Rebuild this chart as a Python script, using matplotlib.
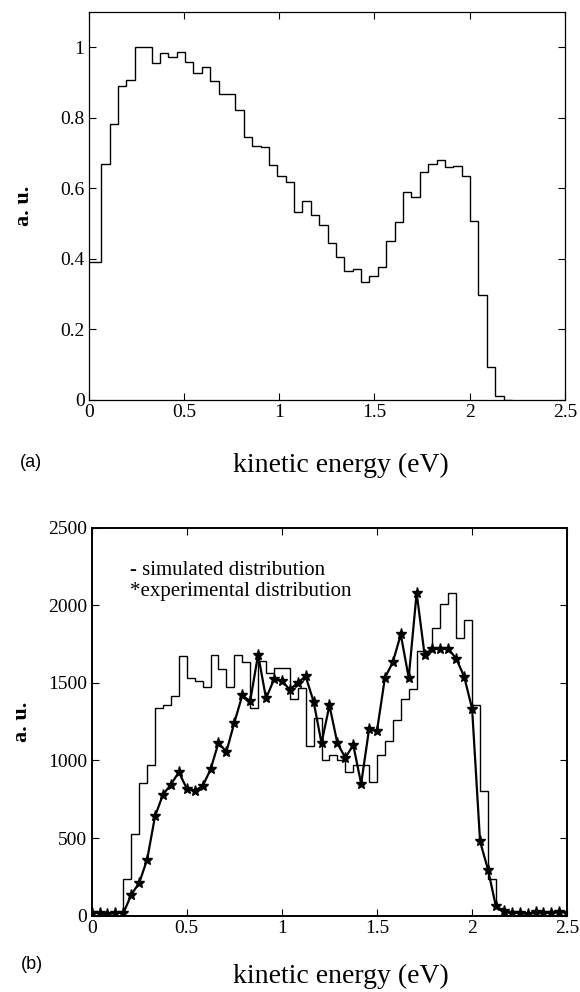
import numpy as np
import matplotlib
matplotlib.use("Agg")
import matplotlib.pyplot as plt

plt.rcParams["font.family"] = ["Liberation Serif", "DejaVu Serif"]

# (a) simulated kinetic energy distribution, bin width 0.044 eV
a_bin_width = 0.044
a_values = [0.39, 0.39, 0.668, 0.782, 0.890, 0.907, 1.0, 1.0, 0.956, 0.984,
            0.973, 0.987, 0.958, 0.927, 0.944, 0.905, 0.866, 0.868, 0.823, 0.744,
            0.720, 0.718, 0.666, 0.635, 0.618, 0.533, 0.564, 0.524, 0.495, 0.444,
            0.404, 0.366, 0.370, 0.335, 0.351, 0.376, 0.450, 0.505, 0.590, 0.576,
            0.647, 0.670, 0.680, 0.661, 0.664, 0.635, 0.508, 0.296, 0.094, 0.011,
            0.0]

# (b) simulated vs experimental, bin width 2.5/60 eV
b_bin_width = 2.5 / 60
b_simulated = [0, 0, 0, 0, 237, 527, 856, 974, 1335, 1355,
               1415, 1673, 1529, 1512, 1475, 1683, 1587, 1475, 1683, 1634,
               1340, 1640, 1565, 1597, 1597, 1393, 1468, 1092, 1275, 1006,
               1038, 1006, 924, 968, 968, 860, 1038, 1124, 1264, 1393,
               1458, 1705, 1705, 1855, 2006, 2081, 1787, 1903, 1357, 802,
               237, 50, 0, 0, 0, 0, 0, 0, 0, 0]
b_experimental = [17, 17, 10, 20, 15, 135, 211, 361, 641, 780,
                  845, 925, 819, 806, 834, 942, 1114, 1056, 1243, 1419,
                  1382, 1683, 1400, 1522, 1515, 1455, 1501, 1542, 1380, 1112,
                  1355, 1112, 1017, 1100, 850, 1202, 1192, 1533, 1634, 1812,
                  1533, 2080, 1683, 1720, 1720, 1720, 1656, 1540, 1333, 479,
                  297, 60, 28, 15, 20, 10, 25, 20, 15, 25, 20]

x_ticks = [0, 0.5, 1, 1.5, 2, 2.5]
x_tick_labels = ["0", "0.5", "1", "1.5", "2", "2.5"]
a_y_ticks = [0, 0.2, 0.4, 0.6, 0.8, 1]
a_y_tick_labels = ["0", "0.2", "0.4", "0.6", "0.8", "1"]
b_y_ticks = [0, 500, 1000, 1500, 2000, 2500]


def style_axes(ax, lw):
    ax.tick_params(direction="in", top=True, right=True, length=5, width=0.8,
                   labelsize=14, pad=3)
    for spine in ax.spines.values():
        spine.set_linewidth(lw)
        spine.set_color("black")


fig = plt.figure(figsize=(5.8, 9.92), dpi=100)

ax_a = fig.add_axes([0.153, 0.597, 0.821, 0.391])
a_edges = np.r_[0, a_bin_width * (np.arange(len(a_values)) + 0.5)]
ax_a.stairs(a_values, a_edges, color="black", linewidth=1.0, baseline=None)
ax_a.set_xlim(0, 2.5)
ax_a.set_ylim(0, 1.1)
ax_a.set_xticks(x_ticks, x_tick_labels)
ax_a.set_yticks(a_y_ticks, a_y_tick_labels)
style_axes(ax_a, 0.9)
ax_a.text(-0.135, 0.5, "a. u.", transform=ax_a.transAxes, rotation=90,
          ha="center", va="center", fontsize=16, fontweight="bold")
ax_a.text(0.53, -0.17, "kinetic energy (eV)", transform=ax_a.transAxes,
          ha="center", va="center", fontsize=20)
ax_a.text(-0.122, -0.162, "(a)", transform=ax_a.transAxes, ha="center",
          va="center", fontsize=13, family=["Liberation Sans", "DejaVu Sans"])

ax_b = fig.add_axes([0.158, 0.077, 0.820, 0.391])
b_edges = b_bin_width * np.arange(len(b_simulated) + 1)
ax_b.stairs(b_simulated, b_edges, color="black", linewidth=1.0, baseline=None)
b_x = b_bin_width * np.arange(len(b_experimental))
ax_b.plot(b_x, b_experimental, color="black", linewidth=1.6, marker="*",
          markersize=8, clip_on=True)
ax_b.set_xlim(0, 2.5)
ax_b.set_ylim(0, 2500)
ax_b.set_xticks(x_ticks, x_tick_labels)
ax_b.set_yticks(b_y_ticks, [str(v) for v in b_y_ticks])
style_axes(ax_b, 1.4)
ax_b.text(0.081, 0.879, "- simulated distribution", transform=ax_b.transAxes,
          ha="left", va="baseline", fontsize=15)
ax_b.text(0.081, 0.825, "*experimental distribution", transform=ax_b.transAxes,
          ha="left", va="baseline", fontsize=15)
ax_b.text(-0.146, 0.5, "a. u.", transform=ax_b.transAxes, rotation=90,
          ha="center", va="center", fontsize=16, fontweight="bold")
ax_b.text(0.523, -0.157, "kinetic energy (eV)", transform=ax_b.transAxes,
          ha="center", va="center", fontsize=20)
ax_b.text(-0.125, -0.126, "(b)", transform=ax_b.transAxes, ha="center",
          va="center", fontsize=13, family=["Liberation Sans", "DejaVu Sans"])

fig.savefig("out.png", dpi=100)
plt.close(fig)
